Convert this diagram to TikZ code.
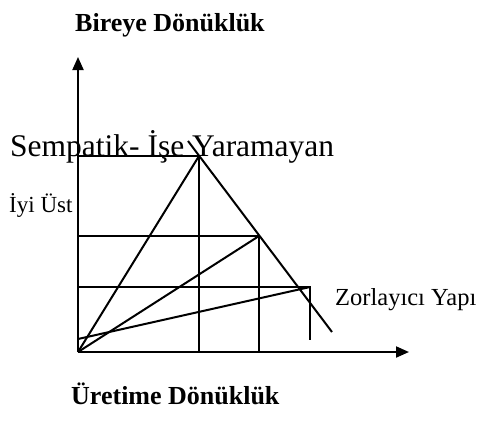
\documentclass[tikz,border=0pt]{standalone}
\usepackage{fontspec}
\setmainfont{Liberation Serif}
\usetikzlibrary{arrows.meta,positioning}
\newcommand{\fs}[1]{\fontsize{#1}{#1}\selectfont}

\begin{document}
\begin{tikzpicture}[x=1pt,y=-1pt,
    axis/.style={line width=2pt,-{Triangle[length=13pt,width=11pt]}},
    guide/.style={line width=2pt},
    lbl/.style={anchor=base west,inner sep=0pt}]
    \useasboundingbox (0,0) rectangle (492,421);
    % points of the frame
    \coordinate (o)  at (78,352);
    \coordinate (ytop) at (78,57);
    \coordinate (xend) at (409,352);
    \coordinate (a)  at (199,156);
    \coordinate (b)  at (259,236);
    \coordinate (c)  at (310,287);
    \coordinate (d0) at (188,141);
    \coordinate (d1) at (332,332);
    \coordinate (c0) at (78,339);
    % axes
    \draw[axis] (o) -- (ytop);
    \draw[axis] (o) -- (xend);
    % levels
    \draw[guide] (o |- a) -- (a) -- (a |- o);
    \draw[guide] (o |- b) -- (b) -- (b |- o);
    \draw[guide] (o |- c) -- (c) -- (310,340);
    \draw[guide] (d0) -- (d1);
    \draw[guide] (o) -- (a);
    \draw[guide] (o) -- (b);
    \draw[guide] (c0) -- (c);
    % labels
    \node[lbl,font=\fs{26}\bfseries] (top) at (75,31) {Bireye Dönüklük};
    \node[lbl,font=\fs{26}\bfseries] (bot) at (71,404) {Üretime Dönüklük};
    \node[lbl,font=\fs{31.5}] (semp) at (10,156) {Sempatik- İşe Yaramayan};
    \node[lbl,font=\fs{23}] (iyi) at (9,212) {İyi Üst};
    \node[lbl,font=\fs{24.5}] (zor) at (335,305) {Zorlayıcı Yapı};
\end{tikzpicture}
\end{document}
